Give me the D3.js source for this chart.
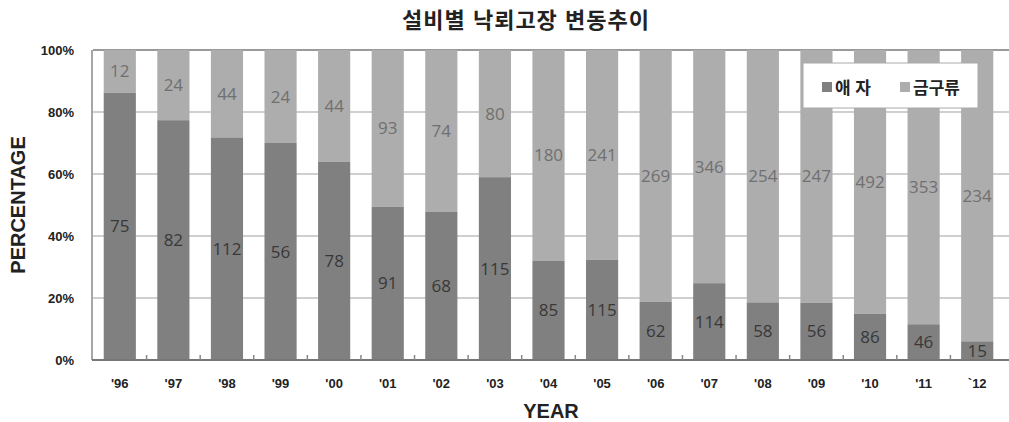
<!DOCTYPE html>
<meta charset="utf-8">
<head>
<style>
  body { margin: 0; background: #fff; }
  text { font-family: "Liberation Sans", Arial, "Noto Sans CJK KR", sans-serif; }
</style>
</head>
<title>설비별 낙뢰고장 변동추이</title>
<script src="https://d3js.org/d3.v7.min.js"></script>

<div id="chart"></div>
<script>
// data
var years = ["'96","'97","'98","'99","'00","'01","'02","'03","'04","'05","'06","'07","'08","'09","'10","'11","`12"];
var aeja = [75, 82, 112, 56, 78, 91, 68, 115, 85, 115, 62, 114, 58, 56, 86, 46, 15];     // 애자
var geumgu = [12, 24, 44, 24, 44, 93, 74, 80, 180, 241, 269, 346, 254, 247, 492, 353, 234]; // 금구류
var yTicks = [0, 0.2, 0.4, 0.6, 0.8, 1];

var W = 1009, H = 422;
var margin = {top: 50, right: 5, bottom: 62, left: 93};
var width = W - margin.left - margin.right,
    height = H - margin.top - margin.bottom;

var svg = d3.select("#chart")
  .append("svg")
    .attr("width", W)
    .attr("height", H);

var g = svg.append("g")
    .attr("transform", "translate(" + margin.left + "," + margin.top + ")");

var rows = years.map(function(y, i) {
  var tot = aeja[i] + geumgu[i];
  return {year: y, a: aeja[i], b: geumgu[i], pa: aeja[i] / tot};
});

var x = d3.scaleBand()
  .domain(years)
  .range([0, width])
  .paddingInner(0.4)
  .paddingOuter(0.2);

var y = d3.scaleLinear()
  .domain([0, 1])
  .range([height, 0]);

// gridlines
g.selectAll("line.grid")
  .data(yTicks.slice(1))
  .enter()
  .append("line")
  .attr("class", "grid")
  .attr("x1", 0)
  .attr("x2", width + 10)
  .attr("y1", function(d) { return y(d); })
  .attr("y2", function(d) { return y(d); })
  .attr("stroke", function(d) { return d == 1 ? "#9a9a9a" : "#cfcfcf"; })
  .attr("stroke-width", 2);

// light part (금구류) on top
g.selectAll("rect.b")
  .data(rows)
  .enter()
  .append("rect")
  .attr("class", "b")
  .attr("x", function(d) { return x(d.year); })
  .attr("width", x.bandwidth())
  .attr("y", y(1))
  .attr("height", function(d) { return y(d.pa) - y(1); })
  .attr("fill", "#adadad");

// dark part (애자)
g.selectAll("rect.a")
  .data(rows)
  .enter()
  .append("rect")
  .attr("class", "a")
  .attr("x", function(d) { return x(d.year); })
  .attr("width", x.bandwidth())
  .attr("y", function(d) { return y(d.pa); })
  .attr("height", function(d) { return height - y(d.pa); })
  .attr("fill", "#808080");

// value labels
g.selectAll("text.la")
  .data(rows)
  .enter()
  .append("text")
  .attr("class", "la")
  .attr("x", function(d) { return x(d.year) + x.bandwidth() / 2; })
  .attr("y", function(d) { return (y(d.pa) + y(0)) / 2 + 6; })
  .attr("text-anchor", "middle")
  .style("font-family", "'Open Sans', 'Noto Sans', sans-serif")
  .style("font-size", "17px")
  .style("fill", "#383838")
  .text(function(d) { return d.a; });

g.selectAll("text.lb")
  .data(rows)
  .enter()
  .append("text")
  .attr("class", "lb")
  .attr("x", function(d) { return x(d.year) + x.bandwidth() / 2; })
  .attr("y", function(d) { return (y(d.pa) + y(1)) / 2 + 6; })
  .attr("text-anchor", "middle")
  .style("font-family", "'Open Sans', 'Noto Sans', sans-serif")
  .style("font-size", "17px")
  .style("fill", "#707070")
  .text(function(d) { return d.b; });

// left axis line
g.append("line")
  .attr("x1", -1).attr("x2", -1)
  .attr("y1", 0).attr("y2", height)
  .attr("stroke", "#888").attr("stroke-width", 1.5);

// bottom axis with ticks between bars
g.append("line")
  .attr("x1", -1).attr("x2", width + 10)
  .attr("y1", height).attr("y2", height)
  .attr("stroke", "#777").attr("stroke-width", 2);

g.selectAll("line.xt")
  .data(years.slice(1))
  .enter()
  .append("line")
  .attr("class", "xt")
  .attr("x1", function(d) { return x(d) - x.step() * 0.2; })
  .attr("x2", function(d) { return x(d) - x.step() * 0.2; })
  .attr("y1", height - 5)
  .attr("y2", height)
  .attr("stroke", "#888")
  .attr("stroke-width", 1.5);

// y tick labels
g.selectAll("text.yl")
  .data(yTicks)
  .enter()
  .append("text")
  .attr("class", "yl")
  .attr("x", -19)
  .attr("y", function(d) { return y(d) + 5; })
  .attr("text-anchor", "end")
  .style("font-size", "13px")
  .style("font-weight", "bold")
  .style("fill", "#222")
  .text(function(d) { return d3.format(".0%")(d); });

// x tick labels
g.selectAll("text.xl")
  .data(years)
  .enter()
  .append("text")
  .attr("class", "xl")
  .attr("x", function(d) { return x(d) + x.bandwidth() / 2; })
  .attr("y", height + 28)
  .attr("text-anchor", "middle")
  .style("font-size", "13px")
  .style("font-weight", "bold")
  .style("fill", "#222")
  .text(function(d) { return d; });

// titles
svg.append("text")
  .attr("x", 526)
  .attr("y", 28)
  .attr("text-anchor", "middle")
  .style("font-size", "22px")
  .style("font-weight", "bold")
  .style("letter-spacing", "1px")
  .style("fill", "#222")
  .text("설비별 낙뢰고장 변동추이");

svg.append("text")
  .attr("x", 551)
  .attr("y", 418)
  .attr("text-anchor", "middle")
  .style("font-size", "20px")
  .style("font-weight", "bold")
  .style("fill", "#222")
  .text("YEAR");

svg.append("text")
  .attr("transform", "translate(25," + (margin.top + height / 2) + ") rotate(-90)")
  .attr("text-anchor", "middle")
  .style("font-size", "20px")
  .style("font-weight", "bold")
  .style("fill", "#222")
  .text("PERCENTAGE");

// legend
var leg = svg.append("g").attr("transform", "translate(803,63)");
leg.append("rect")
  .attr("width", 175).attr("height", 45)
  .attr("fill", "#fff").attr("stroke", "#aaa").attr("stroke-width", 1);
var items = [{name: "애 자", color: "#808080", x: 19}, {name: "금구류", color: "#adadad", x: 97}];
items.forEach(function(it) {
  leg.append("rect")
    .attr("x", it.x).attr("y", 19)
    .attr("width", 10).attr("height", 10)
    .attr("fill", it.color);
  leg.append("text")
    .attr("x", it.x + 13).attr("y", 31)
    .style("font-size", "17px")
    .style("font-weight", "bold")
    .style("fill", "#222")
    .text(it.name);
});
</script>
